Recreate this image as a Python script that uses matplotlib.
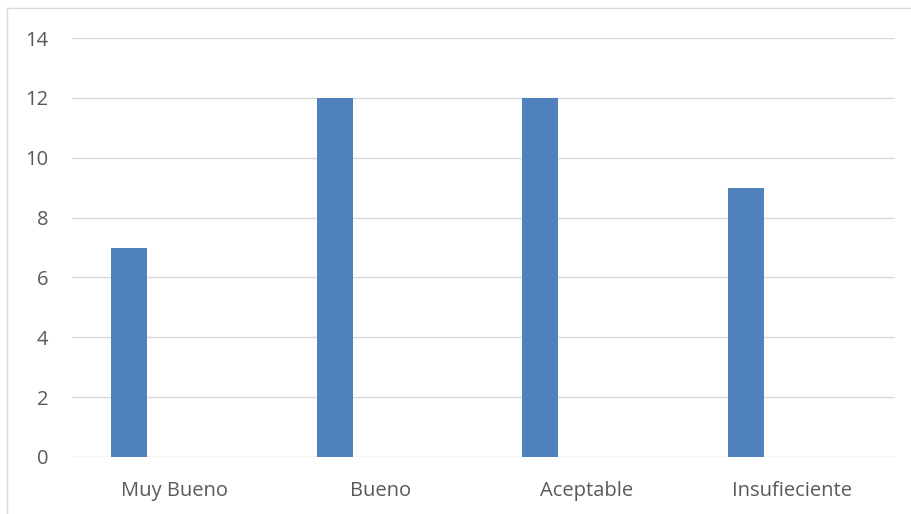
import matplotlib
matplotlib.use("Agg")
import matplotlib.pyplot as plt
from matplotlib.lines import Line2D

categories = ["Muy Bueno", "Bueno", "Aceptable", "Insufieciente"]
values = [7, 12, 12, 9]
yticks = [0, 2, 4, 6, 8, 10, 12, 14]

plt.rcParams.update({"font.family": ["Open Sans", "DejaVu Sans"], "font.size": 10})

fig = plt.figure(figsize=(9.12, 5.14), dpi=100)
ax = fig.add_axes([72 / 912, 1 - 457 / 514, (895 - 72) / 912, (457 - 38) / 514])

x = list(range(len(categories)))
ax.bar([i - 0.224 for i in x], values, width=0.175, color="#4f81bd", zorder=3)

ax.set_xlim(-0.5, len(categories) - 0.5)
ax.set_ylim(0, 14)
ax.set_yticks(yticks)
ax.set_xticks(x)
ax.set_xticklabels(categories)
ax.yaxis.grid(True, color="#d9d9d9", lw=1.0, zorder=0)
for s in ax.spines.values():
    s.set_visible(False)
ax.tick_params(length=0, colors="#595959", labelsize=14.5)
ax.tick_params(axis="y", pad=17)
ax.tick_params(axis="x", pad=17)

# chart frame (only the left and top edges fall inside the crop)
fig.add_artist(Line2D([7.5 / 912, 7.5 / 912], [0, 1 - 8 / 514], color="#d9d9d9", lw=1.0))
fig.add_artist(Line2D([7.5 / 912, 1], [1 - 8 / 514, 1 - 8 / 514], color="#d9d9d9", lw=1.0))

fig.savefig("out.png", dpi=100, facecolor="white")
